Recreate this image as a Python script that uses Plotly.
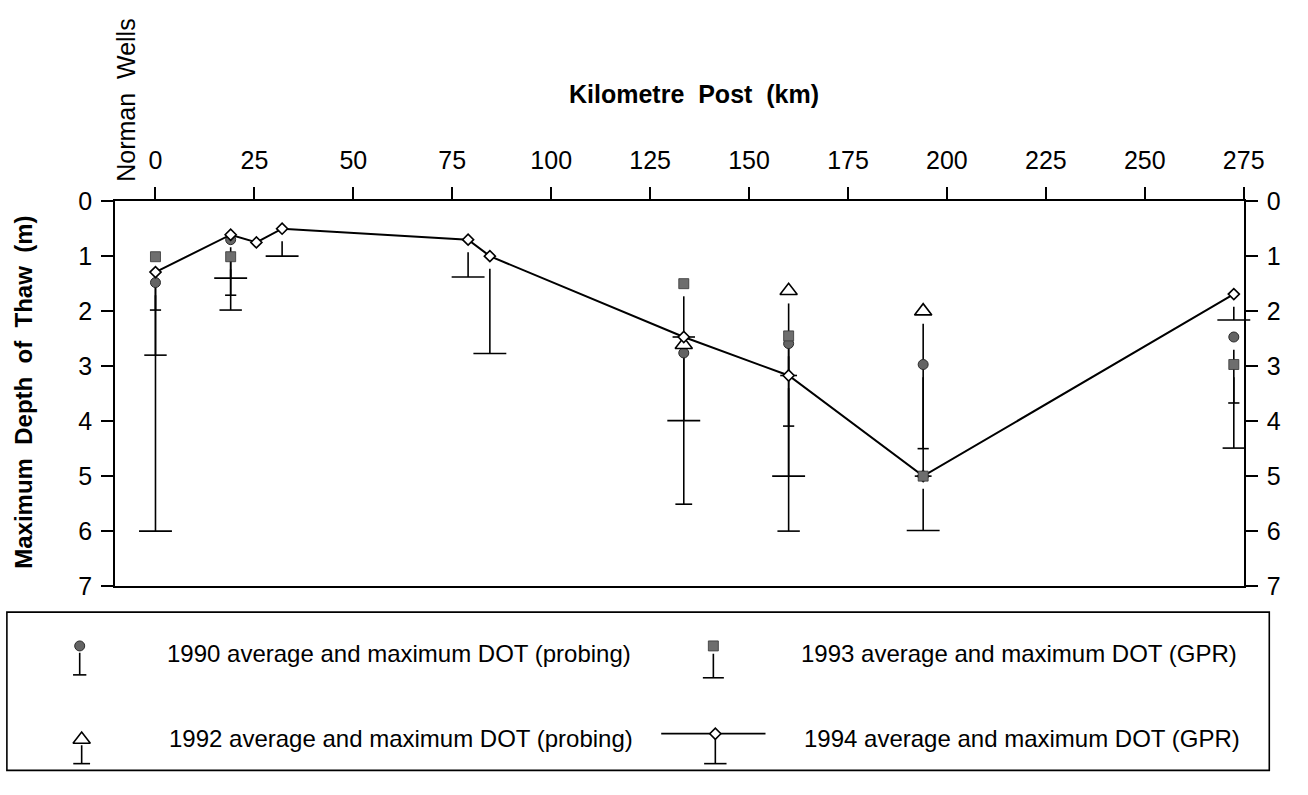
import plotly.graph_objects as go

W, H = 1308, 795
FONT = "Liberation Sans, Arial, Helvetica, sans-serif"

# Maximum depth of thaw (m) along the pipeline, by kilometre post
kp_1990 = [0, 19, 133.5, 160, 194, 272.5]
avg_1990 = [1.48, 0.70, 2.76, 2.59, 2.97, 2.47]
max_1990 = [1.98, 1.71, None, 4.09, 4.50, 3.67]

kp_1992 = [133.5, 160, 194]
avg_1992 = [2.61, 1.63, 2.00]
max_1992 = [5.51, 3.17, 5.00]

kp_1993 = [0, 19, 133.5, 160, 194, 272.5]
avg_1993 = [1.01, 1.01, 1.50, 2.45, 5.00, 2.97]
max_1993 = [2.80, 1.98, 2.47, 6.00, None, 4.49]

kp_1994 = [0, 19, 25.5, 32, 79, 84.5, 133.5, 160, 194, 272.5]
avg_1994 = [1.29, 0.61, 0.75, 0.50, 0.70, 1.00, 2.47, 3.17, 5.00, 1.69]
max_1994 = [6.00, 1.40, None, 1.00, 1.38, 2.77, 3.99, 5.00, 5.99, 2.16]

km_ticks = list(range(0, 276, 25))
depth_ticks = list(range(0, 8))

legend_labels = [
    "1990 average and maximum DOT (probing)",
    "1992 average and maximum DOT (probing)",
    "1993 average and maximum DOT (GPR)",
    "1994 average and maximum DOT (GPR)",
]

# page geometry (pixels)
PLOT_L, PLOT_R, PLOT_T, PLOT_B = 117, 1264, 194, 593
LEG_L, LEG_R, LEG_T, LEG_B = 7, 1290, 620, 784
STEM_GAP = 0.23   # m of blank stem left just under each symbol
STEM_W = 1.6


def px(x):
    return x / W


def py(y):
    return 1 - y / H


circle_m = dict(symbol="circle", size=10, color="#646464", line=dict(color="#2a2a2a", width=1))
tri_m = dict(symbol="triangle-up", size=15, color="white", line=dict(color="black", width=1.6))
square_m = dict(symbol="square", size=10, color="#6e6e6e", line=dict(color="#333333", width=0.8))
diamond_m = dict(symbol="diamond", size=8.5, color="white", line=dict(color="black", width=1.6))

# cross-bar length of each year's maximum marker
cap_size = {"1990": 8, "1992": 12, "1993": 16, "1994": 23.5}

series = {
    "1990": (kp_1990, avg_1990, max_1990, circle_m),
    "1992": (kp_1992, avg_1992, max_1992, tri_m),
    "1993": (kp_1993, avg_1993, max_1993, square_m),
    "1994": (kp_1994, avg_1994, max_1994, diamond_m),
}


def stem_path(kp, avg, mx):
    xs, ys = [], []
    for k, a, m in zip(kp, avg, mx):
        if m is None or m <= a + STEM_GAP:
            continue
        xs += [k, k, None]
        ys += [a + STEM_GAP, m, None]
    return xs, ys


def cap_points(kp, mx):
    pts = [(k, m) for k, m in zip(kp, mx) if m is not None]
    return [p[0] for p in pts], [p[1] for p in pts]


fig = go.Figure()
base = dict(showlegend=False, hoverinfo="skip", cliponaxis=False)

# stems and maximum cross-bars (beneath all symbols)
for yr, (kp, avg, mx, _) in series.items():
    sx, sy = stem_path(kp, avg, mx)
    fig.add_trace(go.Scatter(x=sx, y=sy, mode="lines",
                             line=dict(color="black", width=STEM_W), **base))
    cx, cy = cap_points(kp, mx)
    fig.add_trace(go.Scatter(x=cx, y=cy, mode="markers",
                             marker=dict(symbol="line-ew", size=cap_size[yr],
                                         line=dict(color="black", width=STEM_W)), **base))

# average values
fig.add_trace(go.Scatter(x=kp_1990, y=avg_1990, mode="markers", marker=circle_m, **base))
fig.add_trace(go.Scatter(x=kp_1992, y=avg_1992, mode="markers", marker=tri_m, **base))
fig.add_trace(go.Scatter(x=kp_1994, y=avg_1994, mode="lines+markers", marker=diamond_m,
                         line=dict(color="black", width=2), **base))
fig.add_trace(go.Scatter(x=kp_1993, y=avg_1993, mode="markers", marker=square_m,
                         yaxis="y2", **base))

# legend keys on a hidden pixel-space axis pair inside the legend box
# (symbol x, symbol y, stem top, cross-bar y, cross-bar length)
key_geom = {
    "1990": (81, 655, 662, 685, 9.5),
    "1992": (83, 752, 758, 777, 12),
    "1993": (725, 655, 663, 688, 15),
    "1994": (727, 746, 751, 777, 16),
}
lk = dict(xaxis="x2", yaxis="y3", **base)
fig.add_trace(go.Scatter(x=[672, 778], y=[746, 746], mode="lines",
                         line=dict(color="black", width=1.8), **lk))
for yr, (kx, ky, st, cy, cs) in key_geom.items():
    fig.add_trace(go.Scatter(x=[kx, kx], y=[st, cy], mode="lines",
                             line=dict(color="black", width=STEM_W), **lk))
    fig.add_trace(go.Scatter(x=[kx], y=[cy], mode="markers",
                             marker=dict(symbol="line-ew", size=cs,
                                         line=dict(color="black", width=STEM_W)), **lk))
    fig.add_trace(go.Scatter(x=[kx], y=[ky], mode="markers", marker=series[yr][3], **lk))

axis_font = dict(family=FONT, size=25, color="black")
common_y = dict(range=[7, 0], autorange=False, tickvals=depth_ticks, ticks="outside",
                ticklen=12, tickwidth=1.6, tickcolor="black", showline=True,
                linecolor="black", linewidth=2, showgrid=False, zeroline=False,
                tickfont=axis_font, ticklabelstandoff=4)

fig.update_layout(
    width=W, height=H,
    margin=dict(l=0, r=0, t=0, b=0),
    paper_bgcolor="white", plot_bgcolor="rgba(0,0,0,0)",
    font=dict(family=FONT, color="black"),
    xaxis=dict(domain=[px(PLOT_L), px(PLOT_R)], range=[-10.2, 275], autorange=False,
               side="top", tickvals=km_ticks, ticks="outside", ticklen=12,
               tickwidth=1.6, tickcolor="black", showline=True, mirror=True,
               linecolor="black", linewidth=2, showgrid=False, zeroline=False,
               tickfont=axis_font, ticklabelstandoff=8, anchor="y"),
    yaxis=dict(domain=[py(PLOT_B), py(PLOT_T)], anchor="x", side="left", **common_y),
    yaxis2=dict(overlaying="y", anchor="x", side="right", **common_y),
    xaxis2=dict(domain=[px(LEG_L), px(LEG_R)], range=[LEG_L, LEG_R], autorange=False,
                visible=False, anchor="y3"),
    yaxis3=dict(domain=[py(LEG_B), py(LEG_T)], range=[LEG_B, LEG_T], autorange=False,
                visible=False, anchor="x2"),
    showlegend=False,
)

# legend frame
fig.add_shape(type="rect", xref="paper", yref="paper",
              x0=px(LEG_L), x1=px(LEG_R), y0=py(LEG_B), y1=py(LEG_T),
              line=dict(color="black", width=1.6), fillcolor="rgba(0,0,0,0)")

annotations = [
    dict(text="<b>Kilometre\u00a0\u00a0Post\u00a0\u00a0(km)</b>", x=px(705), y=py(83),
         font=dict(family=FONT, size=25), textangle=0),
    dict(text="<b>Maximum\u00a0\u00a0Depth\u00a0\u00a0of\u00a0\u00a0Thaw\u00a0\u00a0(m)</b>",
         x=px(24), y=py(392), font=dict(family=FONT, size=24), textangle=-90),
    dict(text="Norman\u00a0\u00a0Wells", x=px(128), y=py(89),
         font=dict(family=FONT, size=25), textangle=-90),
]
label_pos = [(168, 663), (170, 751), (812, 663), (815, 751)]
for txt, (lx, ly) in zip(legend_labels, label_pos):
    annotations.append(dict(text=txt, x=px(lx), y=py(ly), xanchor="left",
                            font=dict(family=FONT, size=24)))
for a in annotations:
    a.setdefault("xanchor", "center")
    a.update(xref="paper", yref="paper", yanchor="middle", showarrow=False)
fig.update_layout(annotations=annotations)

fig.write_html("out.html")
